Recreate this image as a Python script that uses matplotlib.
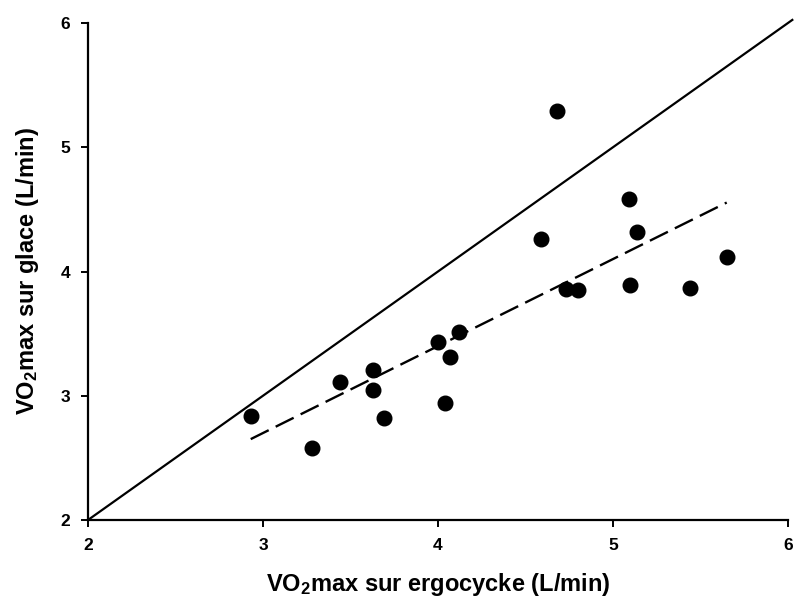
import matplotlib
matplotlib.use("Agg")
import matplotlib.pyplot as plt
import numpy as np

plt.rcParams['font.family'] = ['Liberation Sans', 'DejaVu Sans']
plt.rcParams['font.weight'] = 'bold'
plt.rcParams['mathtext.fontset'] = 'custom'
plt.rcParams['mathtext.rm'] = 'Liberation Sans:bold'
plt.rcParams['mathtext.bf'] = 'Liberation Sans:bold'
plt.rcParams['mathtext.it'] = 'Liberation Sans:bold'

# VO2max measured on the cycle ergometer (x) and on ice (y), L/min
vo2_ergocycle = [2.93, 3.28, 3.44, 3.63, 3.63, 3.69, 4.00, 4.12, 4.07, 4.04,
                 4.68, 4.59, 5.09, 5.14, 5.65, 4.73, 4.80, 5.10, 5.44]
vo2_glace = [2.84, 2.58, 3.11, 3.21, 3.05, 2.82, 3.43, 3.51, 3.31, 2.94,
             5.29, 4.26, 4.58, 4.32, 4.12, 3.86, 3.85, 3.89, 3.87]

# line of identity and regression line
identity_range = [2.0, 6.03]
reg_intercept, reg_slope = 0.60, 0.70

ticks = [2, 3, 4, 5, 6]

fig = plt.figure(figsize=(7.94, 6.02), dpi=100)
ax = fig.add_axes([0.1108, 0.1362, 0.8816, 0.8256])

ax.plot(identity_range, identity_range, color='black', lw=1.6,
        solid_capstyle='butt', clip_on=False, zorder=2)

x_reg = np.array([min(vo2_ergocycle), max(vo2_ergocycle)])
ax.plot(x_reg, reg_intercept + reg_slope * x_reg, color='black', lw=1.7,
        dashes=(8.5, 3.3), zorder=2)

ax.plot(vo2_ergocycle, vo2_glace, 'o', color='black', markersize=10.5,
        clip_on=False, zorder=3)

ax.set_xlim(2, 6)
ax.set_ylim(2, 6)
ax.set_xticks(ticks)
ax.set_yticks(ticks)
ax.set_xticklabels([str(t) for t in ticks], fontsize=12.5, fontweight='bold')
ax.set_yticklabels([str(t) for t in ticks], fontsize=12.5, fontweight='bold')

for side in ('top', 'right'):
    ax.spines[side].set_visible(False)
for side in ('left', 'bottom'):
    ax.spines[side].set_linewidth(1.6)
ax.tick_params(direction='out', length=5, width=1.4, pad=8)

ax.set_xlabel(r'VO$_\mathbf{2}$max sur ergocycke (L/min)', fontsize=17,
              fontweight='bold', labelpad=13)
ax.set_ylabel(r'VO$_\mathbf{2}$max sur glace (L/min)', fontsize=17,
              fontweight='bold', labelpad=14)

fig.savefig('out.png', dpi=100, facecolor='white')
